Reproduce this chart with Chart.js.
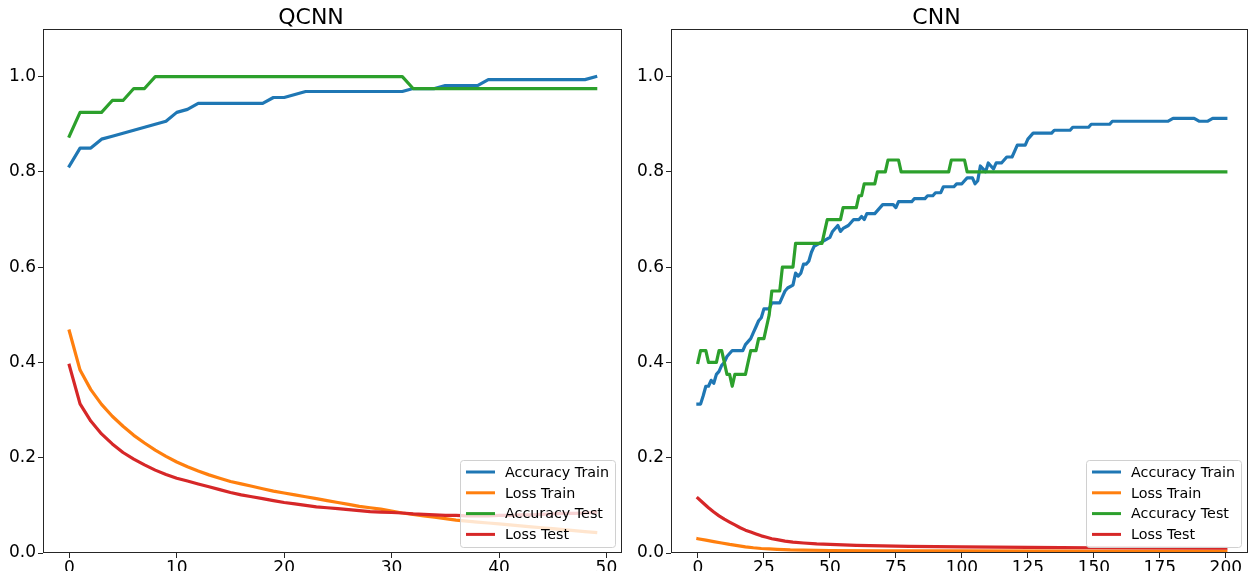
<!DOCTYPE html>
<html>
<head>
<meta charset="utf-8">
<title>QCNN vs CNN</title>
<script src="https://cdn.jsdelivr.net/npm/chart.js@4.4.0/dist/chart.umd.min.js"></script>
<style>
  body { margin: 0; background: #fff; }
  #wrap { position: relative; width: 1250px; height: 571px; }
  .pane { position: absolute; top: 0; width: 625px; height: 571px; }
</style>
</head>
<body>
<div id="wrap">
  <div class="pane" style="left:0"><canvas id="qcnnChart" width="625" height="571"></canvas></div>
  <div class="pane" style="left:625px"><canvas id="cnnChart" width="625" height="571"></canvas></div>
</div>
<script>
const seriesNames = ['Accuracy Train', 'Loss Train', 'Accuracy Test', 'Loss Test'];
const seriesColors = ['#1f77b4', '#ff7f0e', '#2ca02c', '#d62728'];

// QCNN, one value per epoch (0..49)
const qcnnAccTrain = [0.8125, 0.85, 0.85, 0.86875, 0.875, 0.88125, 0.8875, 0.89375, 0.9, 0.90625,
  0.925, 0.93125, 0.94375, 0.94375, 0.94375, 0.94375, 0.94375, 0.94375, 0.94375, 0.95625,
  0.95625, 0.9625, 0.96875, 0.96875, 0.96875, 0.96875, 0.96875, 0.96875, 0.96875, 0.96875,
  0.96875, 0.96875, 0.975, 0.975, 0.975, 0.98125, 0.98125, 0.98125, 0.98125, 0.99375,
  0.99375, 0.99375, 0.99375, 0.99375, 0.99375, 0.99375, 0.99375, 0.99375, 0.99375, 1.0];
const qcnnLossTrain = [0.466, 0.384, 0.343, 0.312, 0.287, 0.266, 0.247, 0.231, 0.216, 0.203,
  0.191, 0.181, 0.172, 0.164, 0.157, 0.150, 0.145, 0.140, 0.135, 0.130,
  0.126, 0.122, 0.118, 0.114, 0.110, 0.106, 0.102, 0.098, 0.095, 0.092,
  0.088, 0.084, 0.081, 0.078, 0.075, 0.072, 0.069, 0.067, 0.065, 0.063,
  0.061, 0.059, 0.057, 0.055, 0.053, 0.051, 0.049, 0.047, 0.045, 0.043];
const qcnnAccTest = [0.875, 0.925, 0.925, 0.925, 0.95, 0.95, 0.975, 0.975, 1.0, 1.0,
  1.0, 1.0, 1.0, 1.0, 1.0, 1.0, 1.0, 1.0, 1.0, 1.0,
  1.0, 1.0, 1.0, 1.0, 1.0, 1.0, 1.0, 1.0, 1.0, 1.0,
  1.0, 1.0, 0.975, 0.975, 0.975, 0.975, 0.975, 0.975, 0.975, 0.975,
  0.975, 0.975, 0.975, 0.975, 0.975, 0.975, 0.975, 0.975, 0.975, 0.975];
const qcnnLossTest = [0.394, 0.313, 0.277, 0.250, 0.229, 0.211, 0.197, 0.185, 0.174, 0.165,
  0.157, 0.151, 0.145, 0.139, 0.133, 0.127, 0.122, 0.118, 0.114, 0.110,
  0.106, 0.103, 0.100, 0.097, 0.095, 0.093, 0.091, 0.089, 0.087, 0.086,
  0.085, 0.084, 0.082, 0.081, 0.080, 0.079, 0.079, 0.078, 0.078, 0.078,
  0.079, 0.079, 0.080, 0.080, 0.081, 0.082, 0.083, 0.083, 0.084, 0.085];
const qcnnEpochs = qcnnAccTrain.map((_, i) => i);

// CNN, read at the epochs where the curves change (0..200)
const cnnAccTrainEpochs = [0, 1, 2, 3, 4, 5, 6, 7, 8, 9, 10, 11, 12, 13, 17, 18, 19, 20, 21, 22,
  23, 24, 25, 27, 28, 31, 32, 33, 34, 36, 37, 38, 39, 40, 41, 42, 43, 44, 46, 48,
  50, 51, 52, 53, 54, 55, 57, 58, 59, 61, 62, 63, 64, 67, 68, 69, 70, 74, 75, 76,
  81, 82, 86, 87, 89, 90, 92, 93, 97, 98, 100, 101, 102, 104, 105, 106, 107, 108, 109, 110,
  111, 112, 113, 115, 116, 117, 119, 120, 121, 124, 125, 126, 127, 134, 135, 141, 142, 148, 149, 156,
  157, 178, 180, 188, 190, 193, 195, 200];
const cnnAccTrain = [0.3125, 0.3125, 0.33, 0.35, 0.35, 0.3625, 0.3563, 0.375, 0.3813, 0.3938, 0.4, 0.4125, 0.4188, 0.425, 0.425, 0.4375, 0.4438, 0.45, 0.4625, 0.475,
  0.4875, 0.4938, 0.5125, 0.5125, 0.525, 0.525, 0.5375, 0.55, 0.5563, 0.5625, 0.5875, 0.5813, 0.5875, 0.6063, 0.6063, 0.6125, 0.6313, 0.6438, 0.65, 0.6563,
  0.6625, 0.675, 0.6813, 0.6875, 0.675, 0.6813, 0.6875, 0.6938, 0.7, 0.7, 0.7063, 0.7, 0.7125, 0.7125, 0.7188, 0.725, 0.7313, 0.7313, 0.725, 0.7375,
  0.7375, 0.7438, 0.7438, 0.75, 0.75, 0.7563, 0.7563, 0.7688, 0.7688, 0.775, 0.775, 0.7813, 0.7875, 0.7875, 0.775, 0.7813, 0.8125, 0.8063, 0.8, 0.8188,
  0.8125, 0.8063, 0.8188, 0.8188, 0.825, 0.8313, 0.8313, 0.8438, 0.8563, 0.8563, 0.8688, 0.875, 0.8813, 0.8813, 0.8875, 0.8875, 0.8938, 0.8938, 0.9, 0.9,
  0.9063, 0.9063, 0.9125, 0.9125, 0.9063, 0.9063, 0.9125, 0.9125];

const cnnLossTrainEpochs = [0, 3, 6, 9, 12, 15, 18, 21, 24, 27, 30, 35, 40, 50, 70, 100, 150, 200];
const cnnLossTrain = [0.030, 0.027, 0.024, 0.021, 0.018, 0.0155, 0.013, 0.011, 0.0095, 0.0085, 0.0077, 0.0065, 0.006, 0.0052, 0.0047, 0.0045, 0.0042, 0.004];

const cnnAccTestEpochs = [0, 1, 3, 4, 7, 8, 9, 10, 11, 12, 13, 14, 18, 19, 20, 22, 23, 25, 26, 27,
  28, 31, 32, 36, 37, 47, 48, 49, 54, 55, 60, 61, 62, 63, 67, 68, 71, 72, 76, 77,
  95, 96, 101, 102, 200];
const cnnAccTest = [0.4, 0.425, 0.425, 0.4, 0.4, 0.425, 0.425, 0.4, 0.375, 0.375, 0.35, 0.375, 0.375, 0.4, 0.425, 0.425, 0.45, 0.45, 0.475, 0.5,
  0.55, 0.55, 0.6, 0.6, 0.65, 0.65, 0.675, 0.7, 0.7, 0.725, 0.725, 0.75, 0.75, 0.775, 0.775, 0.8, 0.8, 0.825, 0.825, 0.8,
  0.8, 0.825, 0.825, 0.8, 0.8];

const cnnLossTestEpochs = [0, 2, 4, 6, 8, 10, 12, 14, 16, 18, 20, 22, 24, 26, 28, 30, 33, 36, 40, 45, 50, 60, 70, 80, 100, 125, 150, 175, 200];
const cnnLossTest = [0.115, 0.105, 0.095, 0.086, 0.078, 0.071, 0.065, 0.059, 0.053, 0.048, 0.044, 0.040, 0.036, 0.033, 0.030, 0.028, 0.025, 0.023, 0.021, 0.019,
  0.018, 0.016, 0.015, 0.014, 0.013, 0.012, 0.011, 0.0105, 0.010];

const FONT = "'DejaVu Sans', sans-serif";

// pairs of epochs/values -> {x, y} points
function points(epochs, values) {
  return epochs.map((e, i) => ({ x: e, y: values[i] }));
}

function makeSets(list) {
  return list.map((pts, i) => ({
    label: seriesNames[i],
    data: pts,
    borderColor: seriesColors[i],
    backgroundColor: seriesColors[i],
    order: 3 - i // matplotlib draws later lines on top
  }));
}

// the four spines
const framePlugin = {
  id: 'frame',
  afterDatasetsDraw(chart) {
    const { ctx, chartArea: a } = chart;
    ctx.save();
    ctx.strokeStyle = '#262626';
    ctx.lineWidth = 1;
    ctx.strokeRect(Math.round(a.left) + 0.5, Math.round(a.top) + 0.5,
      Math.round(a.right - a.left) - 1, Math.round(a.bottom - a.top) - 1);
    ctx.restore();
  }
};

// legend box in the lower right corner of the plot area
const boxLegend = {
  id: 'boxLegend',
  afterDraw(chart) {
    const { ctx, chartArea: a } = chart;
    const w = 155, h = 87;
    const x0 = a.right - 7 - w, y0 = a.bottom - 6 - h;
    ctx.save();
    ctx.beginPath();
    ctx.roundRect(x0 + 0.5, y0 + 0.5, w, h, 3);
    ctx.fillStyle = 'rgba(255,255,255,0.8)';
    ctx.fill();
    ctx.strokeStyle = '#d0d0d0';
    ctx.lineWidth = 1;
    ctx.stroke();
    ctx.font = '14.3px ' + FONT;
    ctx.textBaseline = 'middle';
    chart.data.datasets.forEach((ds, i) => {
      const y = y0 + 12 + i * 20.8;
      ctx.beginPath();
      ctx.moveTo(x0 + 6, y);
      ctx.lineTo(x0 + 35, y);
      ctx.strokeStyle = ds.borderColor;
      ctx.lineWidth = 3;
      ctx.lineCap = 'butt';
      ctx.stroke();
      ctx.fillStyle = '#000';
      ctx.fillText(ds.label, x0 + 45, y + 1);
    });
    ctx.restore();
  }
};

function makeChart(id, title, sets, xMin, xMax, xStep, yWidth, padRight) {
  return new Chart(document.getElementById(id), {
    type: 'line',
    data: { datasets: sets },
    options: {
      responsive: false,
      animation: false,
      layout: { padding: { left: 0, right: padRight, top: 0, bottom: 0 } },
      elements: {
        point: { radius: 0 },
        line: { tension: 0, borderWidth: 3.2, borderCapStyle: 'square', borderJoinStyle: 'round' }
      },
      plugins: {
        legend: { display: false },
        tooltip: { enabled: false },
        title: {
          display: true,
          text: title,
          color: '#000',
          font: { family: FONT, size: 22, weight: 'normal', lineHeight: 1 },
          padding: { top: 7, bottom: 0 }
        }
      },
      scales: {
        x: {
          type: 'linear',
          min: xMin,
          max: xMax,
          afterFit(scale) { scale.height = 18; },
          border: { display: false },
          grid: { display: true, drawOnChartArea: false, drawTicks: true, tickLength: 5, color: '#262626' },
          ticks: {
            stepSize: xStep,
            includeBounds: false,
            autoSkip: false,
            maxRotation: 0,
            padding: 0,
            color: '#000',
            font: { family: FONT, size: 17 }
          }
        },
        y: {
          min: 0,
          max: 1.1,
          afterFit(scale) { scale.width = yWidth; },
          border: { display: false },
          grid: { display: true, drawOnChartArea: false, drawTicks: true, tickLength: 5, color: '#262626' },
          ticks: {
            stepSize: 0.2,
            includeBounds: false,
            padding: 2,
            color: '#000',
            font: { family: FONT, size: 17 },
            callback: v => v.toFixed(1)
          }
        }
      }
    },
    plugins: [framePlugin, boxLegend]
  });
}

makeChart('qcnnChart', 'QCNN', makeSets([
  points(qcnnEpochs, qcnnAccTrain),
  points(qcnnEpochs, qcnnLossTrain),
  points(qcnnEpochs, qcnnAccTest),
  points(qcnnEpochs, qcnnLossTest)
]), -2.45, 51.45, 10, 43, 3);

makeChart('cnnChart', 'CNN', makeSets([
  points(cnnAccTrainEpochs, cnnAccTrain),
  points(cnnLossTrainEpochs, cnnLossTrain),
  points(cnnAccTestEpochs, cnnAccTest),
  points(cnnLossTestEpochs, cnnLossTest)
]), -10.2, 208.4, 25, 46, 2);
</script>
</body>
</html>
